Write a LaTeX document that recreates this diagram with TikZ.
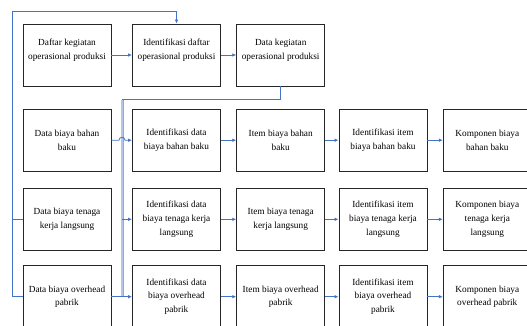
\documentclass[tikz,border=0pt]{standalone}
\usepackage{fontspec}
\setmainfont{Liberation Serif}
\usetikzlibrary{arrows.meta}
\definecolor{lnblue}{HTML}{4472C4}
\definecolor{lnlight}{HTML}{B4C7E7}
\definecolor{lnedge}{HTML}{8FAADC}
\begin{document}
\begin{tikzpicture}[x=1pt,y=-1pt,
  box/.style={draw=black!85, line width=0.9pt, minimum width=88pt, minimum height=62pt,
    inner sep=0pt, align=center, font=\fontsize{9.3}{13.7}\selectfont},
  txt/.style={inner sep=0pt, align=center, font=\fontsize{9.3}{13.7}\selectfont},
  conn/.style={draw=lnblue, line width=0.8pt},
  arr/.style={conn, -{Latex[length=4pt,width=3.6pt]}},
  wide/.style={draw=lnedge, line width=0.7pt, double=lnlight, double distance=1.6pt}]
\useasboundingbox (0,0) rectangle (527,325);
\clip (0,0) rectangle (527,325);
% row 1
\node[box] (a1) at (67,55) {};
\node[box] (b1) at (176.5,55) {};
\node[box] (c1) at (280.7,55) {};
\node[txt] at ([yshift=4.5pt]a1.center) {Daftar kegiatan\\operasional produksi};
\node[txt] at ([yshift=4.5pt]b1.center) {Identifikasi daftar\\operasional produksi};
\node[txt] at ([yshift=4.5pt]c1.center) {Data kegiatan\\operasional produksi};
% row 2
\node[box] (a2) at (67,140.2) {Data biaya bahan\\baku};
\node[box] (b2) at (176.5,140.2) {Identifikasi data\\biaya bahan baku};
\node[box] (c2) at (280.7,140.2) {Item biaya bahan\\baku};
\node[box] (d2) at (383,140.2) {Identifikasi item\\biaya bahan baku};
\node[box] (e2) at (487.3,140.2) {Komponen biaya\\bahan baku};
% row 3
\node[box] (a3) at (67,219.3) {Data biaya tenaga\\kerja langsung};
\node[box] (b3) at (176.5,219.3) {Identifikasi data\\biaya tenaga kerja\\langsung};
\node[box] (c3) at (280.7,219.3) {Item biaya tenaga\\kerja langsung};
\node[box] (d3) at (383,219.3) {Identifikasi item\\biaya tenaga kerja\\langsung};
\node[box] (e3) at (487.3,219.3) {Komponen biaya\\tenaga kerja\\langsung};
% row 4
\node[box] (a4) at (67,296.7) {Data biaya overhead\\pabrik};
\node[box] (b4) at (176.5,296.7) {Identifikasi data\\biaya overhead\\pabrik};
\node[box] (c4) at (280.7,296.7) {Item biaya overhead\\pabrik};
\node[box] (d4) at (383,296.7) {Identifikasi item\\biaya overhead\\pabrik};
\node[box] (e4) at (487.3,296.7) {Komponen biaya\\overhead pabrik};
% coordinates
\coordinate (L) at (12.3,11);
\coordinate (Mt) at (122,99.5);
\coordinate (Mb) at (122,296.7);
\coordinate (M3) at (122,219.3);
% left feedback line
\draw[conn] (a3.west) -- (a3.west -| L);
\draw[arr] (a4.west) -| (L) -| (b1.north);
% middle distribution line
\draw[conn] (c1.south) |- (Mt);
\draw[wide] (Mt) -- (Mb);
\draw[arr] (M3) -- (b3.west);
% row arrows
\draw[arr] (a1) -- (b1);
\draw[arr] (b1) -- (c1);
\draw[arr] (a2.east) -- (119,140.2) arc[start angle=180, end angle=0, radius=3pt] -- (b2.west);
\draw[arr] (a4) -- (b4);
\foreach \r in {2,3,4}{
  \draw[arr] (b\r) -- (c\r);
  \draw[arr] (c\r) -- (d\r);
  \draw[arr] (d\r) -- (e\r);
}
\end{tikzpicture}
\end{document}
